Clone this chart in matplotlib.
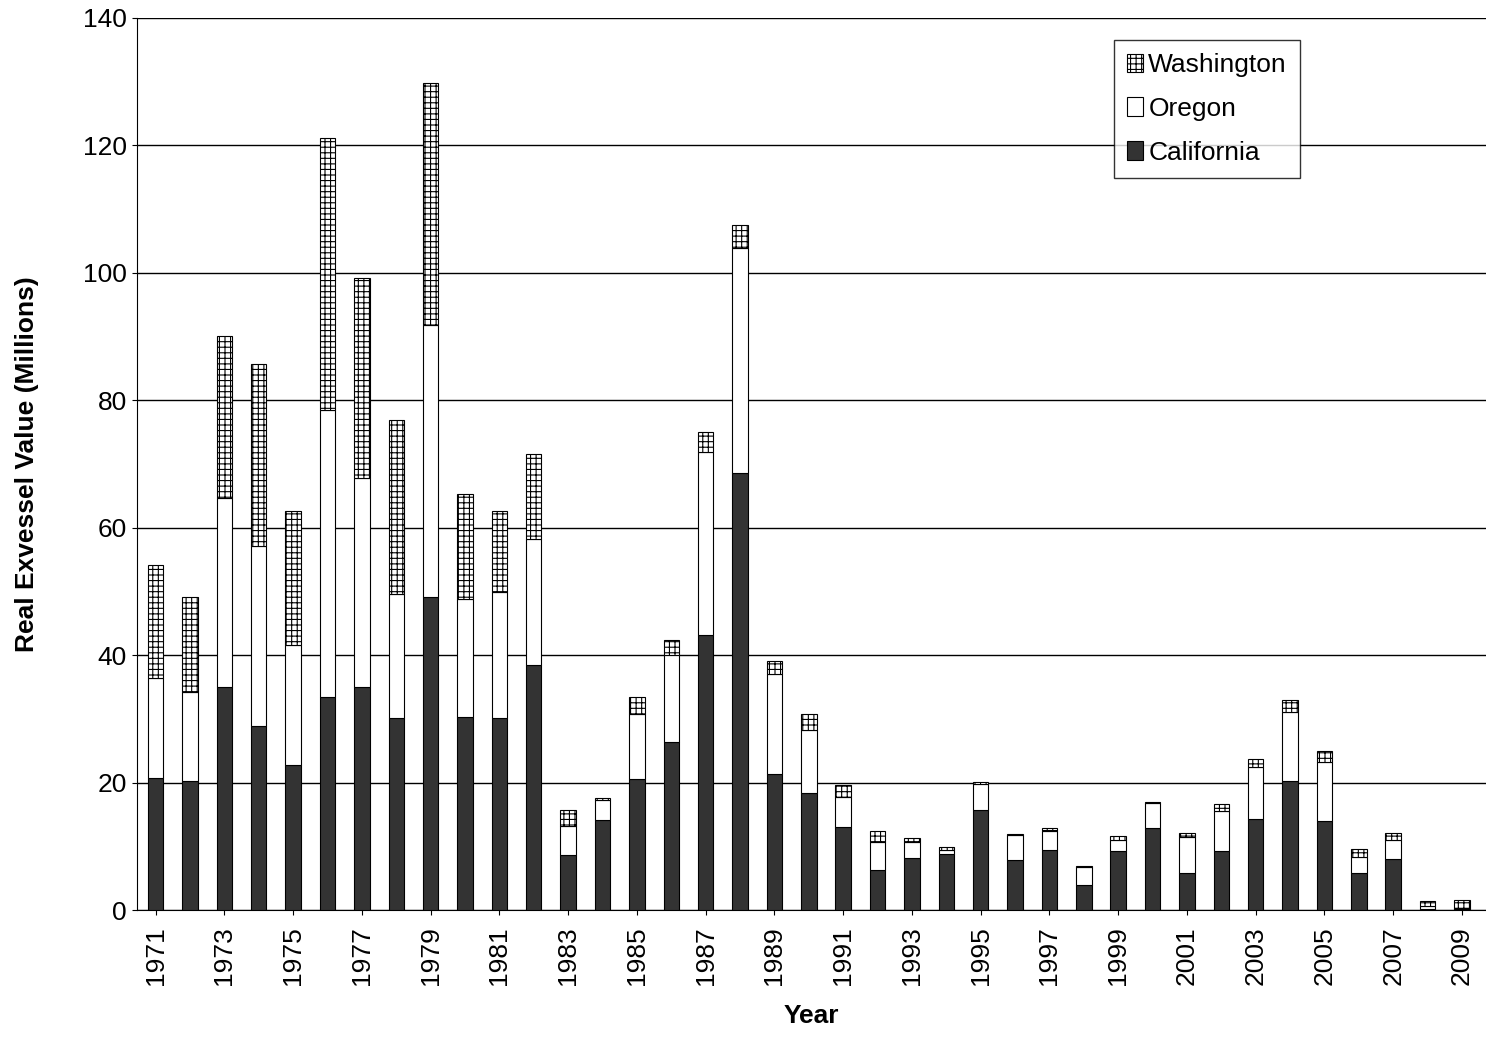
import matplotlib.pyplot as plt
import numpy as np

plt.rcParams['font.family'] = ['Liberation Sans', 'DejaVu Sans']
plt.rcParams['hatch.linewidth'] = 0.8

years = list(range(1971, 2010))
# cumulative tops, converted to per-state values below
ca = [20.7, 20.2, 35.0, 28.9, 22.8, 33.4, 35.0, 30.1, 49.1, 30.3, 30.1, 38.5, 8.6, 14.1,
      20.6, 26.4, 43.2, 68.6, 21.3, 18.4, 13.0, 6.3, 8.2, 8.8, 15.7, 7.8, 9.4, 3.9, 9.3,
      12.9, 5.8, 9.3, 14.3, 20.2, 14.0, 5.8, 8.0, 0.2, 0.2]
ca_or = [36.4, 34.2, 64.7, 57.1, 41.6, 78.5, 67.8, 49.6, 91.8, 48.8, 49.9, 58.2, 13.2, 17.3,
         30.8, 40.0, 71.9, 103.8, 37.0, 28.3, 17.7, 10.7, 10.7, 9.4, 19.8, 11.8, 12.4, 6.7, 11.0,
         16.8, 11.5, 15.5, 22.4, 31.1, 23.2, 8.3, 11.0, 0.6, 0.3]
total = [54.2, 49.1, 90.1, 85.7, 62.6, 121.2, 99.2, 76.9, 129.7, 65.3, 62.6, 71.6, 15.7, 17.6,
         33.4, 42.4, 75.0, 107.5, 39.1, 30.8, 19.6, 12.4, 11.3, 9.9, 20.1, 11.9, 12.9, 6.9, 11.6,
         17.0, 12.1, 16.6, 23.7, 33.0, 25.0, 9.6, 12.1, 1.4, 1.6]

california = np.array(ca)
oregon = np.array(ca_or) - california
washington = np.array(total) - np.array(ca_or)

fig = plt.figure(figsize=(14.86, 10.46), dpi=100)
ax = fig.add_axes([0.092, 0.13, 0.908, 0.853])
x = np.arange(len(years))
w = 0.45
ax.bar(x, california, w, color='#333333', edgecolor='black', linewidth=0.8, label='California', zorder=3)
ax.bar(x, oregon, w, bottom=california, color='white', edgecolor='black', linewidth=0.8, label='Oregon', zorder=3)
ax.bar(x, washington, w, bottom=california + oregon, color='white', edgecolor='black',
       hatch='+++', linewidth=0.8, label='Washington', zorder=3)

ax.set_ylim(0, 140)
ax.set_xlim(-0.55, len(years) - 0.3)
ax.set_yticks(range(0, 141, 20))
ax.yaxis.grid(True, color='black', linewidth=1)
ax.set_axisbelow(True)
ax.set_xticks(x[::2])
ax.set_xticklabels([str(y) for y in years[::2]], rotation=90, fontsize=19)
ax.tick_params(axis='y', labelsize=19)
ax.tick_params(axis='x', pad=8)
for s in ['top', 'right']:
    ax.spines[s].set_visible(False)
ax.set_xlabel('Year', fontsize=19, fontweight='bold', labelpad=14)
ax.set_ylabel('Real Exvessel Value (Millions)', fontsize=19, fontweight='bold', labelpad=32)

h, l = ax.get_legend_handles_labels()
leg = ax.legend(h[::-1], l[::-1], loc='upper right', bbox_to_anchor=(0.872, 0.99), fontsize=19,
                frameon=True, fancybox=False, edgecolor='black', handlelength=0.6,
                handletextpad=0.2, labelspacing=0.75, borderpad=0.5)
leg.get_frame().set_linewidth(1)

fig.savefig('out.png', dpi=100)
